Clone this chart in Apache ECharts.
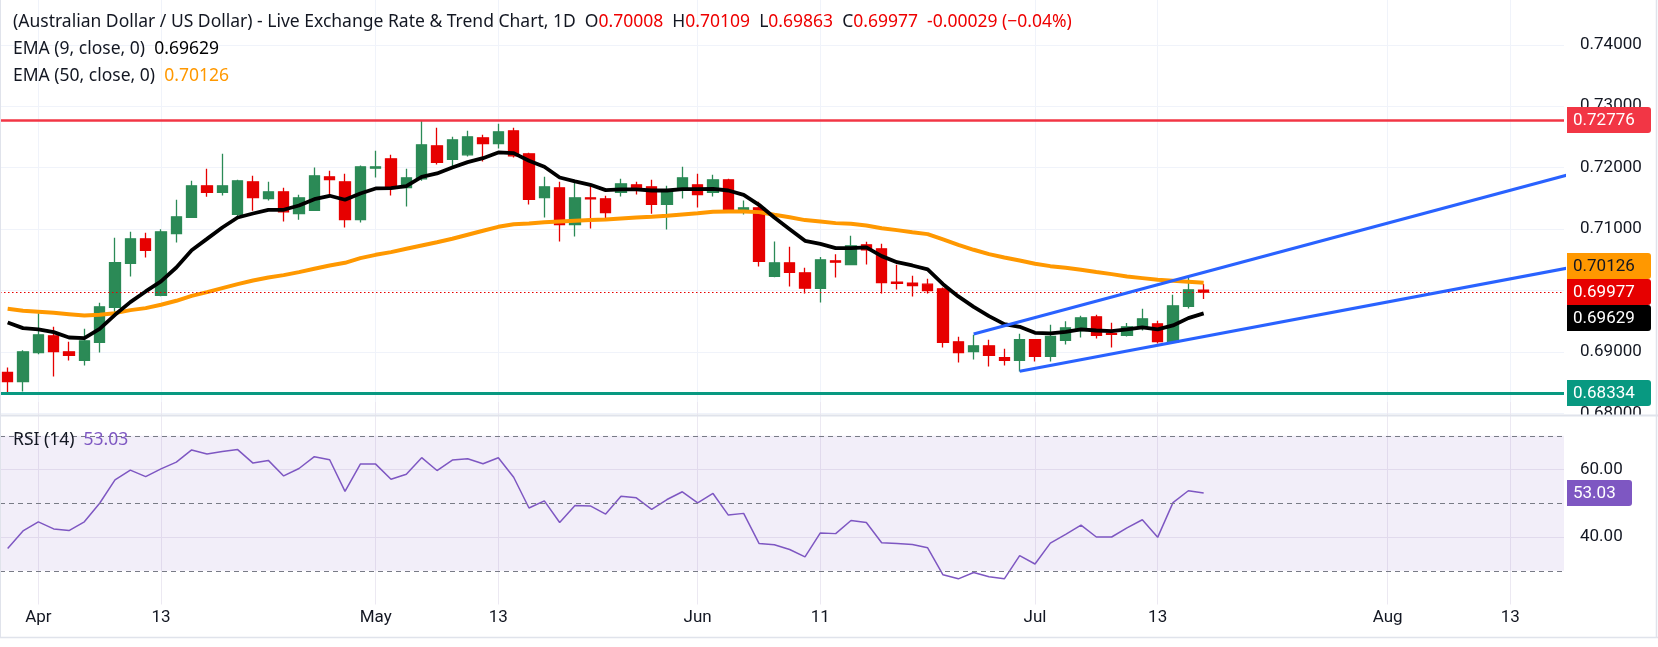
<!DOCTYPE html>
<html>
<head>
<meta charset="utf-8">
<title>AUD/USD 1D</title>
<script src="https://cdn.jsdelivr.net/npm/echarts@6/dist/echarts.min.js"></script>
<style>
  html, body { margin: 0; padding: 0; background: #fff; }
  #chart { width: 1658px; height: 647px; }
</style>
</head>
<body>
<div id="chart"></div>
<script>
// weekday calendar from Mon 30 Mar 2026 (daily bars, no weekends)
var dates = [];
(function () {
  var d = new Date(Date.UTC(2026, 2, 30));
  while (dates.length < 102) {
    var wd = d.getUTCDay();
    if (wd !== 0 && wd !== 6) dates.push(d.toISOString().slice(0, 10));
    d.setUTCDate(d.getUTCDate() + 1);
  }
})();

var tickDates = ['2026-04-01', '2026-04-13', '2026-05-01', '2026-05-13', '2026-06-01',
                 '2026-06-11', '2026-07-01', '2026-07-13', '2026-08-03', '2026-08-13'];
var tickLabels = ['Apr', '13', 'May', '13', 'Jun', '11', 'Jul', '13', 'Aug', '13'];

var opens = [0.68668, 0.68521, 0.68993, 0.69264, 0.69004, 0.68863, 0.69156, 0.69726, 0.70442, 0.70842,
  0.69921, 0.70929, 0.71190, 0.71705, 0.71597, 0.71239, 0.71770, 0.71499, 0.71608, 0.71255,
  0.71304, 0.71852, 0.71770, 0.71157, 0.71993, 0.72145, 0.71678, 0.71819, 0.72356, 0.72134,
  0.72210, 0.72486, 0.72394, 0.72600, 0.72226, 0.71515, 0.71673, 0.71076, 0.71510, 0.71494,
  0.71597, 0.71722, 0.71689, 0.71402, 0.71640, 0.71722, 0.71597, 0.71803, 0.71288, 0.71347,
  0.70230, 0.70452, 0.70290, 0.70035, 0.70485, 0.70425, 0.70745, 0.70680, 0.70138, 0.70122,
  0.70105, 0.70029, 0.69167, 0.69009, 0.69102, 0.68907, 0.68863, 0.69200, 0.68929, 0.69189,
  0.69351, 0.69574, 0.69303, 0.69270, 0.69411, 0.69460, 0.69167, 0.69742, 0.70008];
var highs = [0.68749, 0.69031, 0.69633, 0.69411, 0.69167, 0.69378, 0.69802, 0.70859, 0.70956, 0.70940,
  0.71000, 0.71477, 0.71787, 0.71982, 0.72226, 0.71803, 0.71868, 0.71770, 0.71673, 0.71559,
  0.72004, 0.71949, 0.71901, 0.72036, 0.72275, 0.72210, 0.71982, 0.72776, 0.72649, 0.72503,
  0.72600, 0.72535, 0.72714, 0.72649, 0.72242, 0.71852, 0.71770, 0.71754, 0.71705, 0.71543,
  0.71819, 0.71770, 0.71803, 0.71705, 0.72015, 0.71901, 0.71884, 0.71819, 0.71467, 0.71445,
  0.70799, 0.70713, 0.70372, 0.70545, 0.70593, 0.70892, 0.70794, 0.70761, 0.70420, 0.70241,
  0.70192, 0.70051, 0.69248, 0.69281, 0.69200, 0.69053, 0.69297, 0.69210, 0.69443, 0.69503,
  0.69590, 0.69606, 0.69476, 0.69471, 0.69704, 0.69509, 0.69932, 0.70208, 0.70109];
var lows = [0.68334, 0.68358, 0.68966, 0.68603, 0.68863, 0.68782, 0.68993, 0.69633, 0.70230, 0.70539,
  0.69910, 0.70783, 0.71185, 0.71526, 0.71548, 0.71168, 0.71298, 0.71467, 0.71125, 0.71152,
  0.71299, 0.71526, 0.71027, 0.71109, 0.71841, 0.71548, 0.71369, 0.71787, 0.72052, 0.72004,
  0.72183, 0.72101, 0.72313, 0.72166, 0.71402, 0.71190, 0.70799, 0.70881, 0.71011, 0.71174,
  0.71532, 0.71564, 0.71250, 0.70995, 0.71499, 0.71353, 0.71532, 0.71271, 0.71239, 0.70393,
  0.70219, 0.70067, 0.69953, 0.69807, 0.70214, 0.70414, 0.70425, 0.69953, 0.70018, 0.69904,
  0.69953, 0.69075, 0.68830, 0.68879, 0.68766, 0.68782, 0.68684, 0.68847, 0.68847, 0.69123,
  0.69237, 0.69221, 0.69075, 0.69254, 0.69351, 0.69140, 0.69156, 0.69709, 0.69863];
var closes = [0.68521, 0.69004, 0.69281, 0.69009, 0.68945, 0.69183, 0.69736, 0.70453, 0.70842, 0.70653,
  0.70956, 0.71201, 0.71705, 0.71597, 0.71705, 0.71787, 0.71515, 0.71608, 0.71282, 0.71510,
  0.71868, 0.71808, 0.71157, 0.72015, 0.72015, 0.71662, 0.71836, 0.72372, 0.72085, 0.72454,
  0.72503, 0.72394, 0.72584, 0.72193, 0.71483, 0.71689, 0.71076, 0.71510, 0.71494, 0.71271,
  0.71738, 0.71673, 0.71402, 0.71640, 0.71836, 0.71564, 0.71803, 0.71288, 0.71347, 0.70474,
  0.70452, 0.70295, 0.70040, 0.70501, 0.70463, 0.70729, 0.70664, 0.70132, 0.70116, 0.70083,
  0.70002, 0.69156, 0.68993, 0.69102, 0.68945, 0.68863, 0.69200, 0.68929, 0.69254, 0.69395,
  0.69557, 0.69270, 0.69286, 0.69411, 0.69541, 0.69172, 0.69753, 0.70013, 0.69977];

var ema9 = [0.69481, 0.69389, 0.69368, 0.69324, 0.69237, 0.69227, 0.69378, 0.69606, 0.69813, 0.69986,
  0.70149, 0.70376, 0.70658, 0.70842, 0.71027, 0.71190, 0.71255, 0.71315, 0.71315, 0.71385,
  0.71488, 0.71543, 0.71478, 0.71581, 0.71662, 0.71667, 0.71700, 0.71852, 0.71906, 0.72004,
  0.72090, 0.72155, 0.72248, 0.72237, 0.72112, 0.72015, 0.71841, 0.71776, 0.71722, 0.71635,
  0.71646, 0.71646, 0.71629, 0.71629, 0.71651, 0.71651, 0.71656, 0.71629, 0.71559, 0.71396,
  0.71190, 0.71000, 0.70810, 0.70761, 0.70691, 0.70691, 0.70702, 0.70561, 0.70463, 0.70409,
  0.70344, 0.70105, 0.69905, 0.69736, 0.69584, 0.69454, 0.69411, 0.69313, 0.69303, 0.69330,
  0.69368, 0.69351, 0.69340, 0.69368, 0.69400, 0.69368, 0.69433, 0.69552, 0.69629];
var ema50 = [0.69704, 0.69671, 0.69655, 0.69639, 0.69617, 0.69595, 0.69606, 0.69633, 0.69682, 0.69715,
  0.69769, 0.69834, 0.69915, 0.69975, 0.70040, 0.70105, 0.70165, 0.70214, 0.70252, 0.70301,
  0.70355, 0.70409, 0.70452, 0.70528, 0.70582, 0.70626, 0.70680, 0.70734, 0.70788, 0.70843,
  0.70908, 0.70973, 0.71038, 0.71081, 0.71092, 0.71114, 0.71125, 0.71136, 0.71147, 0.71157,
  0.71174, 0.71190, 0.71201, 0.71217, 0.71239, 0.71260, 0.71282, 0.71288, 0.71288, 0.71277,
  0.71233, 0.71195, 0.71147, 0.71125, 0.71098, 0.71087, 0.71060, 0.71016, 0.70984, 0.70951,
  0.70919, 0.70832, 0.70745, 0.70664, 0.70593, 0.70539, 0.70490, 0.70436, 0.70398, 0.70371,
  0.70338, 0.70301, 0.70268, 0.70230, 0.70203, 0.70176, 0.70160, 0.70143, 0.70126];

var rsi = [36.6, 41.8, 44.5, 42.4, 41.9, 44.5, 50.0, 56.9, 59.8, 57.9,
  60.2, 62.2, 65.8, 64.6, 65.3, 65.9, 61.9, 62.7, 58.1, 60.3,
  63.8, 62.9, 53.5, 61.6, 61.6, 57.1, 58.6, 63.5, 59.7, 62.8,
  63.2, 61.7, 63.5, 57.7, 48.6, 50.7, 44.3, 49.3, 49.2, 46.8,
  52.1, 51.6, 48.2, 51.1, 53.4, 50.1, 52.9, 46.5, 47.0, 38.1,
  37.7, 36.3, 34.1, 41.2, 41.0, 44.9, 44.3, 38.3, 38.1, 37.8,
  36.8, 28.8, 27.6, 29.5, 28.2, 27.6, 34.5, 32.0, 38.2, 40.8,
  43.5, 40.0, 40.0, 42.7, 45.1, 39.9, 50.2, 53.7, 53.03];

var resistance = 0.72776;
var support = 0.68334;
// channel lines: [bar index, price] anchors, extended past the right edge
var channelUpper = [[63, 0.69294], [103, 0.71966]];
var channelLower = [[66, 0.68687], [103, 0.70426]];

var FONT = 'Roboto, "Noto Sans", sans-serif';
var HFONT = '"Noto Sans", Roboto, sans-serif';
var TXT = '#131722';
var UP = '#2b8a56';
var DOWN = '#e60000';

var candles = opens.map(function (o, i) { return [o, closes[i], lows[i], highs[i]]; });
var vLines = tickDates.map(function (d) { return { xAxis: d }; });
var lastClose = closes[closes.length - 1];
var lastE9 = ema9[ema9.length - 1];
var lastE50 = ema50[ema50.length - 1];
var lastRsi = rsi[rsi.length - 1];

var chart = echarts.init(document.getElementById('chart'));

function xAxisCfg(gridIndex, showLabels) {
  return {
    type: 'category',
    gridIndex: gridIndex,
    data: dates,
    boundaryGap: true,
    axisLine: { show: false },
    axisTick: { show: false },
    splitLine: { show: false },
    axisLabel: {
      show: showLabels,
      margin: 5,
      color: TXT,
      fontSize: 17,
      fontFamily: FONT,
      interval: function (i, v) { return tickDates.indexOf(v) >= 0; },
      formatter: function (v) { return tickLabels[tickDates.indexOf(v)] || ''; }
    }
  };
}

var option = {
  animation: false,
  backgroundColor: '#ffffff',
  textStyle: { fontFamily: FONT },
  grid: [
    { left: -4, width: 1568, top: 0, height: 413.5 },
    { left: -4, width: 1568, top: 402, height: 202.5 }
  ],
  xAxis: [xAxisCfg(0, false), xAxisCfg(1, true)],
  yAxis: [
    {
      type: 'value', gridIndex: 0, position: 'right', scale: true,
      min: 0.68, max: 0.74729, interval: 0.01,
      axisLine: { show: false }, axisTick: { show: false },
      splitLine: { show: true, showMaxLine: false, lineStyle: { color: '#f0f3fa', width: 1 } },
      axisLabel: {
        margin: 16, color: TXT, fontSize: 17, fontFamily: FONT, showMaxLabel: false,
        formatter: function (v) { return v.toFixed(5); }
      }
    },
    {
      type: 'value', gridIndex: 1, position: 'right',
      min: 20, max: 80, interval: 20,
      axisLine: { show: false }, axisTick: { show: false },
      splitLine: { show: false },
      axisLabel: {
        margin: 16, color: TXT, fontSize: 17, fontFamily: FONT,
        showMinLabel: false, showMaxLabel: false,
        formatter: function (v) { return v.toFixed(2); }
      }
    }
  ],
  series: [
    {
      name: 'grid0', type: 'line', xAxisIndex: 0, yAxisIndex: 0, data: [], z: 0,
      markLine: {
        silent: true, symbol: 'none', z: 0, label: { show: false },
        lineStyle: { color: '#f0f3fa', width: 1, type: 'solid' },
        data: vLines
      }
    },
    {
      name: 'grid1', type: 'line', xAxisIndex: 1, yAxisIndex: 1, data: [], z: 0,
      markLine: {
        silent: true, symbol: 'none', z: 0, label: { show: false },
        lineStyle: { color: '#ece9f2', width: 1, type: 'solid' },
        data: vLines.concat([{ yAxis: 40 }, { yAxis: 60 }])
      },
      markArea: {
        silent: true,
        itemStyle: { color: 'rgba(126, 87, 194, 0.1)' },
        data: [[{ yAxis: 30 }, { yAxis: 70 }]]
      }
    },
    {
      name: 'AUDUSD', type: 'candlestick', xAxisIndex: 0, yAxisIndex: 0, z: 3,
      data: candles,
      barWidth: 11,
      itemStyle: { color: UP, color0: DOWN, borderColor: UP, borderColor0: DOWN, borderWidth: 1.3 },
      markLine: {
        silent: true, symbol: 'none', precision: 5, label: { show: false },
        data: [
          { yAxis: resistance, lineStyle: { color: '#f23645', width: 2.5, type: 'solid' } },
          { yAxis: support, lineStyle: { color: '#089981', width: 3, type: 'solid' } },
          { yAxis: lastClose, lineStyle: { color: DOWN, width: 1.2, type: [1.5, 2.5] } }
        ]
      }
    },
    {
      name: 'EMA 50', type: 'line', xAxisIndex: 0, yAxisIndex: 0, z: 4,
      data: ema50, showSymbol: false, symbol: 'none',
      lineStyle: { color: '#ff9800', width: 4 }
    },
    {
      name: 'EMA 9', type: 'line', xAxisIndex: 0, yAxisIndex: 0, z: 5,
      data: ema9, showSymbol: false, symbol: 'none',
      lineStyle: { color: '#000000', width: 3.8 }
    },
    {
      name: 'Upper', type: 'line', xAxisIndex: 0, yAxisIndex: 0, z: 6,
      data: channelUpper, showSymbol: false, symbol: 'none', clip: true,
      lineStyle: { color: '#2962ff', width: 3 }
    },
    {
      name: 'Lower', type: 'line', xAxisIndex: 0, yAxisIndex: 0, z: 6,
      data: channelLower, showSymbol: false, symbol: 'none', clip: true,
      lineStyle: { color: '#2962ff', width: 3 }
    },
    {
      name: 'RSI', type: 'line', xAxisIndex: 1, yAxisIndex: 1, z: 4,
      data: rsi, showSymbol: false, symbol: 'none',
      lineStyle: { color: '#7e57c2', width: 1.5 },
      markLine: {
        silent: true, symbol: 'none', label: { show: false },
        lineStyle: { color: '#787b86', width: 1, type: [5, 4] },
        data: [{ yAxis: 70 }, { yAxis: 50 }, { yAxis: 30 }]
      }
    }
  ]
};

chart.setOption(option);

// price tags on the right scale, drawn above the axis labels
function tag(y, text, bg, fg, w) {
  return {
    type: 'group', x: 1567, y: Math.round(y) - 13, z: 200, zlevel: 1,
    children: [
      { type: 'rect', z: 200, zlevel: 1, shape: { x: 0, y: 0, width: w, height: 26, r: [0, 3, 3, 0] }, style: { fill: bg } },
      { type: 'text', z: 201, zlevel: 1, style: { x: 6, y: 13.5, text: text, fill: fg, font: '17px ' + FONT,
          align: 'left', textAlign: 'left', verticalAlign: 'middle', textVerticalAlign: 'middle' } }
    ]
  };
}

function legend(y, text, rich) {
  return {
    type: 'text', z: 100, zlevel: 1,
    style: {
      x: 13, y: y, font: '17.5px ' + HFONT, fill: TXT,
      verticalAlign: 'middle', textVerticalAlign: 'middle',
      text: text, rich: rich
    }
  };
}

function richColor(c) { return { fill: c, color: c, font: '17.5px ' + HFONT }; }

var py = function (v) { return chart.convertToPixel({ yAxisIndex: 0 }, v); };
var ry = function (v) { return chart.convertToPixel({ yAxisIndex: 1 }, v); };

chart.setOption({
  graphic: [
    // pane separator, frame, hide lower half of the 0.68000 label
    { type: 'rect', z: 90, zlevel: 1, shape: { x: 1565, y: 416, width: 90, height: 16 }, style: { fill: '#ffffff' } },
    { type: 'line', z: 91, zlevel: 1, shape: { x1: 0, y1: 415.5, x2: 1658, y2: 415.5 }, style: { stroke: '#e0e3eb', lineWidth: 2 } },
    { type: 'line', z: 91, zlevel: 1, shape: { x1: 0, y1: 637.5, x2: 1658, y2: 637.5 }, style: { stroke: '#e0e3eb', lineWidth: 1.5 } },
    { type: 'line', z: 91, zlevel: 1, shape: { x1: 1656.5, y1: 0, x2: 1656.5, y2: 638 }, style: { stroke: '#e0e3eb', lineWidth: 1.5 } },
    { type: 'line', z: 91, zlevel: 1, shape: { x1: 0.5, y1: 0, x2: 0.5, y2: 638 }, style: { stroke: '#e0e3eb', lineWidth: 1 } },

    tag(py(resistance), resistance.toFixed(5), '#f23645', '#ffffff', 84),
    tag(py(lastE50) - 17, lastE50.toFixed(5), '#ff9800', TXT, 84),
    tag(py(lastClose), lastClose.toFixed(5), DOWN, '#ffffff', 84),
    tag(py(lastE9) + 5, lastE9.toFixed(5), '#000000', '#ffffff', 84),
    tag(py(support), support.toFixed(5), '#089981', '#ffffff', 84),
    tag(ry(lastRsi), lastRsi.toFixed(2), '#7e57c2', '#ffffff', 65),

    legend(22, '(Australian Dollar / US Dollar) - Live Exchange Rate & Trend Chart, 1D  O{r|0.70008}  H{r|0.70109}  L{r|0.69863}  C{r|0.69977}  {r|-0.00029 (\u22120.04%)}',
      { r: richColor('#ee0000') }),
    legend(49, 'EMA (9, close, 0)  {v|' + lastE9.toFixed(5) + '}', { v: richColor('#000000') }),
    legend(76, 'EMA (50, close, 0)  {v|' + lastE50.toFixed(5) + '}', { v: richColor('#ff9800') }),
    legend(440, 'RSI (14)  {v|' + lastRsi.toFixed(2) + '}', { v: richColor('#7e57c2') })
  ]
});

window.addEventListener('resize', function () { chart.resize(); });
</script>
</body>
</html>
